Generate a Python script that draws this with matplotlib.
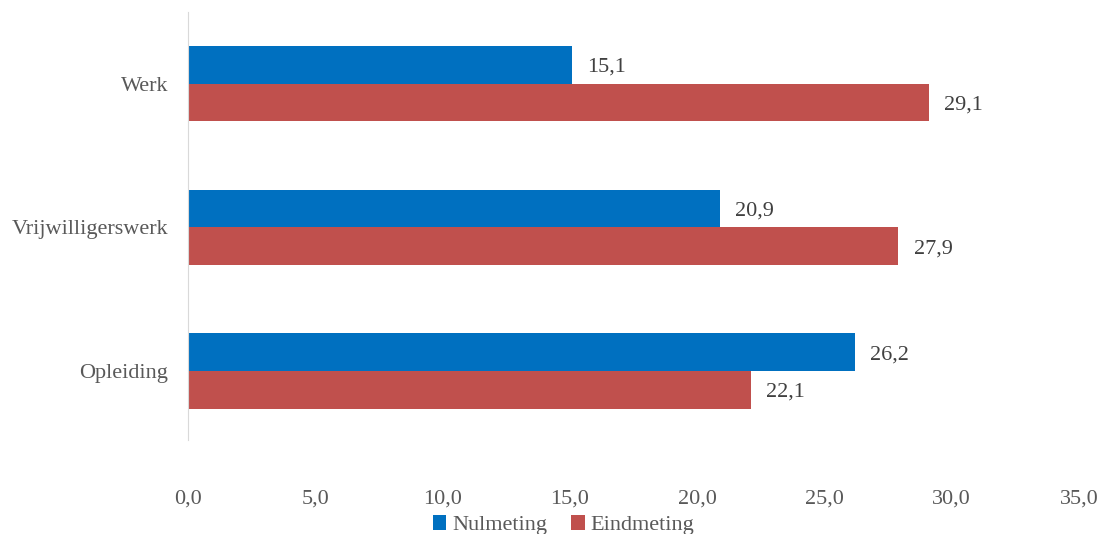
import numpy as np
import matplotlib.pyplot as plt

categories = ["Opleiding", "Vrijwilligerswerk", "Werk"]
nulmeting = [26.2, 20.9, 15.1]
eindmeting = [22.1, 27.9, 29.1]
xticks = [0, 5, 10, 15, 20, 25, 30, 35]

plt.rcParams["font.family"] = ["Liberation Serif", "DejaVu Serif"]

fig = plt.figure(figsize=(11.05, 5.34), dpi=100)
ax = fig.add_axes([0.170, 0.176, 0.8065, 0.802])

y = np.arange(len(categories))
h = 0.262
b1 = ax.barh(y + h / 2, nulmeting, height=h, color="#0070C0", label="Nulmeting")
b2 = ax.barh(y - h / 2, eindmeting, height=h, color="#C0504D", label="Eindmeting")

for bars, vals in ((b1, nulmeting), (b2, eindmeting)):
    for bar, v in zip(bars, vals):
        ax.text(bar.get_width() + 0.6, bar.get_y() + bar.get_height() / 2,
                f"{v:.1f}".replace(".", ","), va="center_baseline", ha="left",
                fontsize=16, color="#404040")

ax.set_xlim(0, 35)
ax.set_ylim(-0.48, 2.5)
ax.set_xticks(xticks)
ax.set_xticklabels([f"{t:.1f}".replace(".", ",") for t in xticks])
ax.set_yticks(y)
ax.set_yticklabels(categories)
ax.tick_params(length=0, labelsize=16, colors="#595959")
ax.tick_params(axis="x", pad=36)
ax.tick_params(axis="y", pad=14)

for s in ("top", "right", "bottom"):
    ax.spines[s].set_visible(False)
ax.spines["left"].set_color("#D9D9D9")

fig.legend(loc="lower center", bbox_to_anchor=(0.51, -0.04), ncol=2, frameon=False,
           fontsize=16, labelcolor="#595959", handlelength=0.6, handleheight=0.6,
           handletextpad=0.25, columnspacing=1.1)

fig.savefig("out.png", dpi=100)
